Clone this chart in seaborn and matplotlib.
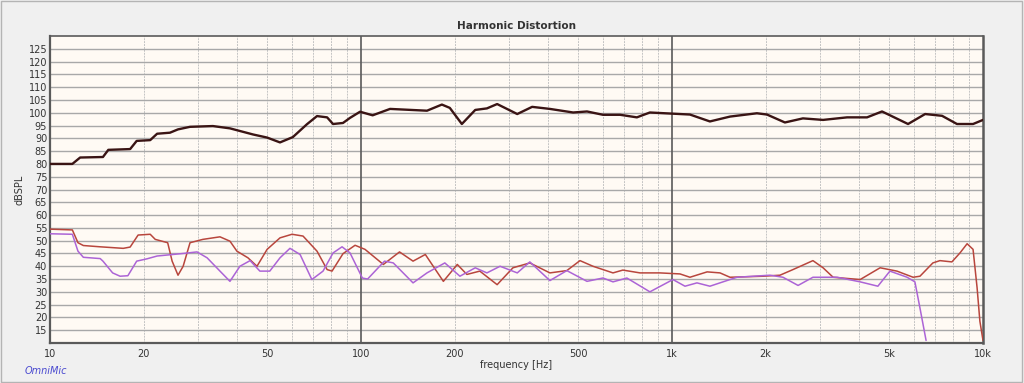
import matplotlib
matplotlib.use("Agg")
import matplotlib.pyplot as plt
from matplotlib.ticker import FixedLocator, NullFormatter
import seaborn as sns
import pandas as pd

# fundamental (black) curve
fund_freq = [10, 11.8, 12.5, 14.8, 15.4, 18.1, 19.0, 21.0, 22.1, 24.3, 25.8, 28.2, 33.4,
             37.9, 45.0, 49.9, 54.9, 60.4, 67.0, 72.2, 77.8, 81.3, 87.5, 92.2, 99.3,
             109, 124, 163, 182, 193, 211, 233, 254, 274, 318, 355, 405, 481, 533, 600,
             681, 771, 849, 1142, 1324, 1536, 1875, 2020, 2307, 2636, 3060, 3656, 4238,
             4735, 5741, 6515, 7385, 8248, 9290, 10000]
fund_db = [80, 80, 82.5, 82.7, 85.5, 85.8, 89, 89.3, 91.8, 92.2, 93.5, 94.5, 94.8,
           93.9, 91.5, 90.3, 88.4, 90.5, 95.5, 98.7, 98.2, 95.6, 96, 98, 100.4,
           99, 101.5, 100.8, 103.2, 101.9, 95.6, 101.1, 101.7, 103.4, 99.5, 102.3, 101.5,
           100.1, 100.5, 99.2, 99.2, 98.2, 100.1, 99.3, 96.6, 98.5, 99.8, 99.3, 96.2,
           97.8, 97.2, 98.2, 98.2, 100.5, 95.6, 99.5, 98.8, 95.6, 95.6, 97.2]

# 2nd harmonic (red)
h2_freq = [10, 11.8, 12.3, 12.8, 14.5, 17.2, 18.1, 19.2, 21.0, 21.8, 23.9, 24.7, 25.8,
           26.8, 28.2, 31.0, 35.2, 37.9, 39.9, 43.3, 46.3, 49.9, 54.9, 60.0, 65.1, 72.2,
           77.8, 80.7, 87.5, 95.7, 103, 118, 133, 147, 161, 184, 204, 219, 241, 274, 308,
           349, 405, 459, 506, 557, 646, 695, 789, 914, 1061, 1142, 1297, 1427, 1536,
           1963, 2224, 2449, 2839, 3060, 3296, 4027, 4668, 5288, 5960, 6270, 6900, 7270,
           7943, 8433, 8890, 9290, 9572, 9772, 10000]
h2_db = [54.5, 54.2, 49.2, 48.1, 47.6, 47.0, 47.5, 52.2, 52.5, 50.5, 49.2, 42, 36.5,
         40, 49.2, 50.5, 51.5, 49.8, 45.9, 43.3, 40, 46.6, 51.1, 52.5, 51.8, 45.9,
         38.7, 38.1, 44.9, 48.2, 46.6, 40.7, 45.6, 42, 44.6, 34.1, 40.7, 36.8, 38.1, 32.8, 39.4,
         41.3, 37.4, 38.3, 42.2, 40, 37.4, 38.5, 37.4, 37.4, 37.0, 35.7, 37.8, 37.4, 35.7,
         36.1, 36.5, 38.7, 42.2, 39.4, 35.7, 34.8, 39.4, 38.1, 35.7, 36.1, 41.3, 42.2,
         41.7, 45.2, 48.8, 46.6, 31.6, 18.5, 11]

# 3rd harmonic (purple)
h3_freq = [10, 11.8, 12.3, 12.8, 14.5, 14.8, 15.9, 16.8, 17.8, 19.0, 20.5, 22.1, 26.8,
           29.7, 32.0, 35.2, 37.9, 40.8, 44.0, 47.3, 50.9, 54.9, 59.1, 63.7, 69.5, 75.5,
           81.3, 86.9, 92.2, 101, 105, 119, 127, 147, 163, 186, 208, 233, 254, 280, 318,
           349, 405, 459, 533, 600, 646, 716, 849, 1007, 1101, 1203, 1324, 1459, 1618,
           2065, 2274, 2543, 2839, 3397, 4027, 4592, 5020, 5702, 6040, 6270, 6561]
h3_db = [52.7, 52.5, 45.9, 43.5, 43, 42, 37.4, 36.1, 36.3, 42, 42.9, 44, 45,
         45.6, 43.3, 38.1, 34.1, 40, 42.2, 38.1, 38.1, 43.3, 47, 44.6, 34.8, 38.1,
         45.2, 47.6, 45.2, 35.4, 35, 42, 41.3, 33.5, 37.4, 41.3, 36.1, 39.4, 37.4, 40, 37.4,
         41.7, 34.4, 38.3, 34.1, 35.4, 33.9, 35.4, 30, 34.8, 32.2, 33.5, 32.2, 33.9, 35.7,
         36.5, 35.7, 32.5, 35.7, 35.7, 33.9, 32.2, 38.1, 35.7, 33.9, 23.7, 11]

y_ticks = list(range(15, 130, 5))
x_ticks = [10, 20, 50, 100, 200, 500, 1000, 2000, 5000, 10000]
x_labels = ["10", "20", "50", "100", "200", "500", "1k", "2k", "5k", "10k"]

df = pd.concat([
    pd.DataFrame({"freq": fund_freq, "db": fund_db, "curve": "fundamental"}),
    pd.DataFrame({"freq": h2_freq, "db": h2_db, "curve": "H2"}),
    pd.DataFrame({"freq": h3_freq, "db": h3_db, "curve": "H3"}),
])

sns.set_style("white")
plt.rcParams['font.family'] = ['DejaVu Sans']

fig = plt.figure(figsize=(10.24, 3.83), dpi=100, facecolor="#f0f0f0")
ax = fig.add_axes([50 / 1024, 1 - 343 / 383, 933 / 1024, 307 / 383])
ax.set_facecolor("#fffaf4")

palette = {"fundamental": "#3a1414", "H2": "#b8463d", "H3": "#ac64d6"}
sizes = {"fundamental": 1.7, "H2": 1.1, "H3": 1.1}
sns.lineplot(data=df, x="freq", y="db", hue="curve", palette=palette,
             size="curve", sizes=sizes, estimator=None, sort=False,
             legend=False, ax=ax, zorder=5, solid_joinstyle="round")

ax.set_xscale("log")
ax.set_xlim(10, 10000)
ax.set_ylim(10, 130)

# grid
minor = [m * 10 ** d for d in range(1, 4) for m in range(2, 10)]
for f in minor:
    ax.axvline(f, color="#c4c4c4", lw=0.7, ls=(0, (2, 1)), zorder=1)
for f in [100, 1000]:
    ax.axvline(f, color="#5a5a5a", lw=1.2, zorder=2)
for y in y_ticks:
    ax.axhline(y, color="#a8a8a8", lw=1.0, zorder=1)

ax.xaxis.set_major_locator(FixedLocator(x_ticks))
ax.xaxis.set_minor_formatter(NullFormatter())
ax.set_xticks(x_ticks)
ax.set_xticklabels(x_labels)
ax.set_yticks(y_ticks)
ax.tick_params(axis="both", which="both", length=0, labelsize=7, colors="#333333", pad=2)
ax.tick_params(axis="x", pad=4)

for s in ax.spines.values():
    s.set_color("#5a5a5a")
    s.set_linewidth(1.2)
ax.spines["left"].set_linewidth(1.6)
ax.spines["bottom"].set_linewidth(1.6)
ax.spines["right"].set_linewidth(1.8)

ax.set_xlabel("frequency [Hz]", fontsize=7, color="#333333", labelpad=1)
ax.set_ylabel("dBSPL", fontsize=7, color="#333333", labelpad=3)
ax.set_title("Harmonic Distortion", fontsize=7.5, fontweight="bold", color="#333333", pad=5)

fig.text(25 / 1024, 1 - 371 / 383, "OmniMic", fontsize=7, style="italic", color="#4a4ad0", va="center")

fig.patches.append(plt.Rectangle((0.001, 0.003), 0.997, 0.994, transform=fig.transFigure,
                                 fill=False, edgecolor="#b4b4b4", lw=1))

fig.savefig("out.png", dpi=100, facecolor=fig.get_facecolor())
